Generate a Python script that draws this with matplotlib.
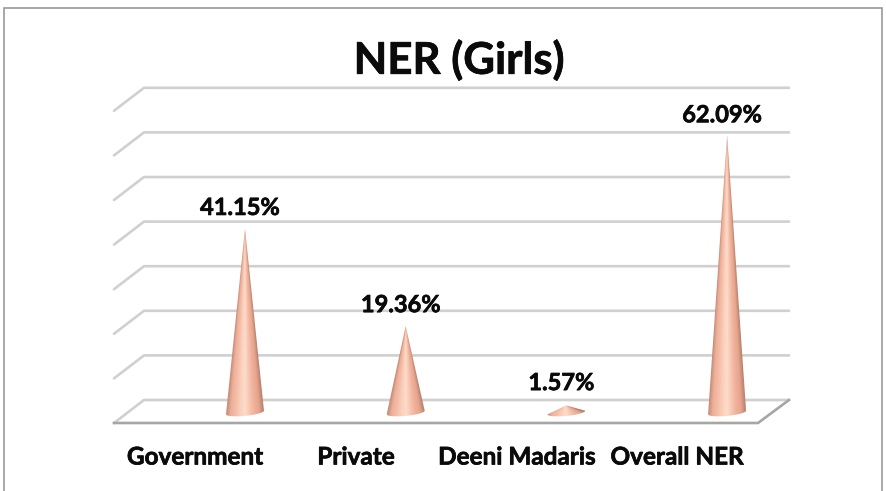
import numpy as np
import matplotlib
matplotlib.use("Agg")
import matplotlib.pyplot as plt
import matplotlib.patheffects as pe
from matplotlib.colors import LinearSegmentedColormap
from matplotlib.patches import Polygon, Rectangle

categories = ["Government", "Private", "Deeni Madaris", "Overall NER"]
values = [41.15, 19.36, 1.57, 62.09]
value_labels = ["41.15%", "19.36%", "1.57%", "62.09%"]
grid_levels = [0, 10, 20, 30, 40, 50, 60, 70]

W, H = 886, 491
# pixel scale of the chart
px_x = 160.7
px_y = 4.46
x0_px, y0_px = 245, 412.5

plt.rcParams['font.family'] = ['Lato', 'DejaVu Sans']
fig = plt.figure(figsize=(W / 100, H / 100), dpi=100)
ax = fig.add_axes([0, 0, 1, 1])
ax.set_axis_off()

fig.add_artist(Rectangle((3.5 / W, -0.02), 878 / W, 1.02 - 7.5 / H, transform=fig.transFigure,
                         fill=False, edgecolor="#9a9a9a", linewidth=1.2))

# floor depth
back = 12.5 / px_y
front = -10.5 / px_y
x_left_back = -101 / px_x
x_left_front = -131 / px_x
x_right_back = 544 / px_x
x_right_front = 513 / px_x

grid_col = "#d0d0d0"
for lev in grid_levels:
    ax.plot([x_left_front, x_left_back, x_right_back],
            [lev + front, lev + back, lev + back],
            color=grid_col, lw=1.9, solid_capstyle="round", zorder=1)
ax.plot([x_left_front, x_right_front, x_right_back],
        [front, front, back], color="#a6a6a6", lw=1.9, zorder=2)

cone_cmap = LinearSegmentedColormap.from_list(
    "cone", ["#c48a76", "#eeb09a", "#f5bda7", "#fbd0bc", "#fddccb",
             "#f8c5b0", "#efb19b", "#e8a58e", "#b98370"])

half_w = 19 / px_x
base_h = 3.4 / px_y
tilt = 1.8 / px_y
for i, v in enumerate(values):
    xs = np.linspace(i - half_w, i + half_w, 120)
    ys = np.linspace(-base_h - tilt, v, 400)
    xx, yy = np.meshgrid(xs, ys)
    frac = np.clip(1 - yy / v, 1e-3, 1)
    shade = np.clip((xx - i) / (half_w * frac), -1, 1)
    im = ax.imshow((shade + 1) / 2, extent=[xs[0], xs[-1], ys[0], ys[-1]], origin="lower",
                   cmap=cone_cmap, vmin=0, vmax=1, aspect="auto", zorder=3, interpolation="bilinear")
    theta = np.linspace(np.pi, 2 * np.pi, 40)
    outline = np.column_stack([i + half_w * np.cos(theta),
                               base_h * np.sin(theta) + tilt * np.cos(theta)])
    outline = np.vstack([outline, [i, v]])
    clip = Polygon(outline, closed=True, transform=ax.transData, facecolor="none", edgecolor="none")
    ax.add_patch(clip)
    im.set_clip_path(clip)

ax.set_xlim(-x0_px / px_x, (W - x0_px) / px_x)
ax.set_ylim(-(H - y0_px) / px_y, y0_px / px_y)

bold = [pe.withStroke(linewidth=0.5, foreground="#0a0a0a")]

# labels
for i, (v, lab) in enumerate(zip(values, value_labels)):
    ax.annotate(lab, (i, v), xytext=(-3.6, 16.5 if i == 2 else 15.5 if i != 3 else 15), textcoords="offset points",
                ha="center", va="center", fontsize=17, fontweight="bold", color="#0a0a0a", zorder=5,
                path_effects=bold)

label_x = [-50 / px_x, 111 / px_x, 272 / px_x, 432 / px_x]
for lx, c in zip(label_x, categories):
    ax.text(lx, (y0_px - 457) / px_y, c, ha="center", va="center", fontsize=17.5,
            fontweight="bold", color="#0a0a0a", zorder=5, path_effects=bold)

ax.text(214 / px_x, (y0_px - 60) / px_y, "NER (Girls)", ha="center", va="center",
        fontsize=31.5, fontweight="bold", color="#0a0a0a", path_effects=bold)

fig.savefig("out.png", dpi=100)
